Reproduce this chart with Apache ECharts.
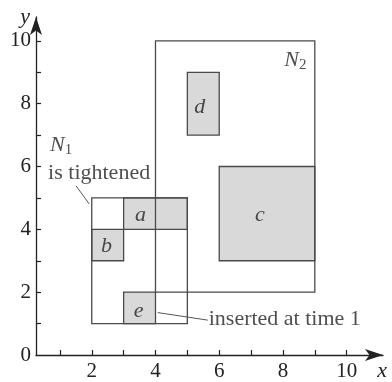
<!DOCTYPE html>
<html>
<head>
<meta charset="utf-8">
<script src="https://cdn.jsdelivr.net/npm/echarts@6/dist/echarts.min.js"></script>
<style>
  html, body { margin: 0; padding: 0; background: #fff; }
  #chart { width: 392px; height: 382px; }
</style>
</head>
<body>
<div id="chart"></div>
<script>
// rectangles, filled ones first so the outlines of N1 / N2 sit on top
const boxNames = ['a', 'b', 'c', 'd', 'e', 'N1', 'N2'];
const boxX0 = [3, 2, 6, 5, 3, 2, 4];
const boxY0 = [4, 3, 3, 7, 1, 1, 2];
const boxX1 = [5, 3, 9, 6, 4, 5, 9];
const boxY1 = [5, 4, 6, 9, 2, 5, 10];
const boxFilled = [true, true, true, true, true, false, false];

// letters inside the boxes
const letterText = ['a', 'b', 'c', 'd', 'e'];
const letterX = [3.53, 2.46, 7.28, 5.39, 3.47];
const letterY = [4.45, 3.45, 4.45, 7.9, 1.4];

// node names N1, N2
const nodeMain = ['N', 'N'];
const nodeSub = ['1', '2'];
const nodeX = [0.69, 8.04];
const nodeY = [6.68, 9.4];

// notes and leader lines
const noteText = ['is tightened', 'inserted at time 1'];
const noteX = [0.63, 5.67];
const noteY = [5.79, 1.14];
const leaderFrom = [[1.51, 5.38], [4.07, 1.35]];
const leaderTo = [[1.92, 4.81], [5.64, 1.11]];

// axis ticks
const tickValues = [1, 2, 3, 4, 5, 6, 7, 8, 9, 10];
const xLabelValues = [2, 4, 6, 8, 10];
const yLabelValues = [0, 2, 4, 6, 8, 10];

const serif = 'Liberation Serif';
const ink = '#222';
const edge = '#4a4a4a';

let myChart = echarts.init(document.getElementById('chart'));

let boxData = boxNames.map(function (name, i) {
    return [boxX0[i], boxY0[i], boxX1[i], boxY1[i], boxFilled[i] ? 1 : 0];
});
let leaderData = leaderFrom.map(function (p, i) {
    return [p[0], p[1], leaderTo[i][0], leaderTo[i][1]];
});
let letterData = letterText.map(function (t, i) {
    return {value: [letterX[i], letterY[i]], name: t};
});
let nodeData = nodeMain.map(function (t, i) {
    return {value: [nodeX[i], nodeY[i]], name: t, sub: nodeSub[i]};
});
let noteData = noteText.map(function (t, i) {
    return {value: [noteX[i], noteY[i]], name: t};
});

myChart.setOption({
    animation: false,
    grid: {left: 36, right: 9, top: 17, bottom: 25},
    xAxis: {
        type: 'value',
        min: 0.25,
        max: 11.14,
        splitLine: {show: false},
        axisLine: {
            onZero: false,
            lineStyle: {color: ink, width: 1.3},
            symbol: ['none', 'arrow'],
            symbolSize: [9, 18]
        },
        axisTick: {inside: true, length: 5, customValues: tickValues, lineStyle: {color: ink, width: 1.2}},
        axisLabel: {customValues: xLabelValues, fontFamily: serif, fontSize: 21, color: ink, margin: 6},
        name: 'x',
        nameLocation: 'end',
        nameGap: 4,
        nameTextStyle: {
            fontFamily: serif, fontStyle: 'italic', fontSize: 22, color: ink,
            align: 'right', verticalAlign: 'top', padding: [5, 0, 0, 0]
        }
    },
    yAxis: {
        type: 'value',
        min: 0,
        max: 10.76,
        interval: 1,
        splitLine: {show: false},
        axisLine: {
            onZero: false,
            lineStyle: {color: ink, width: 1.3},
            symbol: ['none', 'arrow'],
            symbolSize: [9, 18]
        },
        axisTick: {inside: true, length: 5, customValues: tickValues, lineStyle: {color: ink, width: 1.2}},
        axisLabel: {customValues: yLabelValues, fontFamily: serif, fontSize: 21, color: ink, margin: 5},
        name: 'y',
        nameLocation: 'end',
        nameGap: 0,
        nameTextStyle: {
            fontFamily: serif, fontStyle: 'italic', fontSize: 22, color: ink,
            align: 'right', verticalAlign: 'middle', padding: [0, 6, 0, 0]
        }
    },
    series: [
        {
            name: 'boxes',
            type: 'custom',
            data: boxData,
            renderItem: function (params, api) {
                let p0 = api.coord([api.value(0), api.value(3)]);
                let p1 = api.coord([api.value(2), api.value(1)]);
                return {
                    type: 'rect',
                    shape: {x: p0[0], y: p0[1], width: p1[0] - p0[0], height: p1[1] - p0[1]},
                    style: {
                        fill: api.value(4) ? '#d9d9d9' : 'none',
                        stroke: edge,
                        lineWidth: 1.3
                    }
                };
            }
        },
        {
            name: 'leaders',
            type: 'custom',
            data: leaderData,
            renderItem: function (params, api) {
                let a = api.coord([api.value(0), api.value(1)]);
                let b = api.coord([api.value(2), api.value(3)]);
                return {
                    type: 'line',
                    shape: {x1: a[0], y1: a[1], x2: b[0], y2: b[1]},
                    style: {stroke: '#555', lineWidth: 1}
                };
            }
        },
        {
            name: 'letters',
            type: 'scatter',
            symbolSize: 0,
            data: letterData,
            label: {
                show: true,
                position: 'inside',
                formatter: '{b}',
                fontFamily: serif,
                fontStyle: 'italic',
                fontSize: 22,
                color: ink
            }
        },
        {
            name: 'nodes',
            type: 'scatter',
            symbolSize: 0,
            data: nodeData,
            label: {
                show: true,
                position: 'inside',
                align: 'left',
                formatter: function (p) {
                    return '{n|' + p.name + '}{s|' + p.data.sub + '}';
                },
                rich: {
                    n: {fontFamily: serif, fontStyle: 'italic', fontSize: 22, color: ink},
                    s: {fontFamily: serif, fontSize: 15, color: ink, verticalAlign: 'bottom', padding: [10, 0, 0, 0]}
                }
            }
        },
        {
            name: 'notes',
            type: 'scatter',
            symbolSize: 0,
            data: noteData,
            label: {
                show: true,
                position: 'inside',
                align: 'left',
                formatter: '{b}',
                fontFamily: serif,
                fontSize: 22,
                color: ink
            }
        }
    ]
});
</script>
</body>
</html>
